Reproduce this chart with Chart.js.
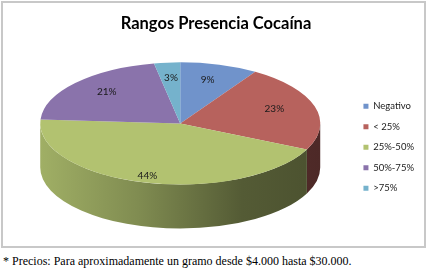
<!DOCTYPE html>
<html>
<head>
<meta charset="utf-8">
<script src="https://cdn.jsdelivr.net/npm/chart.js@4.4.1/dist/chart.umd.min.js"></script>
<style>
  body { margin: 0; background: #fff; }
  #marco { position: absolute; left: 1px; top: 1px; width: 421px; height: 243px; border: 2px solid #c8c8c8; }
  #nota { position: absolute; left: 3px; top: 254px; font: 12px "Liberation Serif", serif; color: #000; white-space: nowrap; }
</style>
</head>
<body>
<div id="marco"><canvas id="grafico" width="421" height="243"></canvas></div>
<div id="nota">* Precios: Para aproximadamente un gramo desde $4.000 hasta $30.000.</div>
<script>
const categorias = ['Negativo', '< 25%', '25%-50%', '50%-75%', '>75%'];
const porcentajes = [9, 23, 44, 21, 3];
const colores = ['#7093cb', '#b7625d', '#b2c270', '#8a73ab', '#75b2cc'];

// aplanado de la cara superior y alto del canto (efecto 3D)
const aplanado = 0.436;
const grosor = 44;

// oscurece un color hex por un factor
function sombra(hex, f) {
  const n = parseInt(hex.slice(1), 16);
  const r = Math.round(((n >> 16) & 255) * f);
  const g = Math.round(((n >> 8) & 255) * f);
  const b = Math.round((n & 255) * f);
  return `rgb(${r},${g},${b})`;
}

const pastel3d = {
  id: 'pastel3d',
  beforeDatasetsDraw(chart) {
    const ctx = chart.ctx;
    const arcs = chart.getDatasetMeta(0).data;
    ctx.save();
    // canto frontal de cada porción
    arcs.forEach((arc, i) => {
      const { x, y, startAngle, endAngle, outerRadius: r } = arc;
      [-2 * Math.PI, 0, 2 * Math.PI].forEach((off) => {
        const a = Math.max(startAngle + off, 0);
        const b = Math.min(endAngle + off, Math.PI);
        if (b <= a) return;
        const g = ctx.createLinearGradient(x - r, 0, x + r, 0);
        g.addColorStop(0, sombra(colores[i], 0.9));
        g.addColorStop(0.35, sombra(colores[i], 0.72));
        g.addColorStop(0.72, sombra(colores[i], 0.47));
        g.addColorStop(1, sombra(colores[i], 0.42));
        ctx.beginPath();
        ctx.ellipse(x, y, r, r * aplanado, 0, a, b);
        ctx.ellipse(x, y + grosor, r, r * aplanado, 0, b, a, true);
        ctx.closePath();
        ctx.fillStyle = g;
        ctx.fill();
      });
    });
    // cara superior: se aplasta en vertical
    const y0 = arcs[0].y;
    ctx.translate(0, y0);
    ctx.scale(1, aplanado);
    ctx.translate(0, -y0);
  },
  afterDatasetsDraw(chart) {
    const ctx = chart.ctx;
    ctx.restore();
    const arcs = chart.getDatasetMeta(0).data;
    ctx.save();
    ctx.font = '10px Lato';
    ctx.fillStyle = '#1a1a1a';
    ctx.textAlign = 'center';
    ctx.textBaseline = 'middle';
    arcs.forEach((arc, i) => {
      const mid = (arc.startAngle + arc.endAngle) / 2;
      // las etiquetas del frente se alejan más (perspectiva)
      const d = arc.outerRadius * (0.7 + 0.25 * Math.max(Math.sin(mid), 0));
      ctx.fillText(porcentajes[i] + '%', arc.x + Math.cos(mid) * d, arc.y - 3 + Math.sin(mid) * d * aplanado);
    });
    ctx.restore();
  },
};

new Chart(document.getElementById('grafico'), {
  type: 'pie',
  data: {
    labels: categorias,
    datasets: [{
      data: porcentajes,
      backgroundColor: colores,
      borderWidth: 0,
      radius: 140,
      clip: false,
    }],
  },
  options: {
    responsive: false,
    animation: false,
    devicePixelRatio: 1,
    layout: { padding: { left: 5, right: 0, bottom: 42 } },
    plugins: {
      title: {
        display: true,
        text: 'Rangos Presencia Cocaína',
        color: '#000',
        font: { family: 'Lato', size: 16.5, weight: 'bold' },
        padding: { top: 11, bottom: 9 },
      },
      legend: {
        position: 'right',
        align: 'end',
        labels: {
          boxWidth: 5,
          boxHeight: 5,
          padding: 11,
          color: '#1a1a1a',
          font: { family: 'Lato', size: 9.5 },
        },
      },
      tooltip: { enabled: false },
    },
  },
  plugins: [pastel3d],
});
</script>
</body>
</html>
